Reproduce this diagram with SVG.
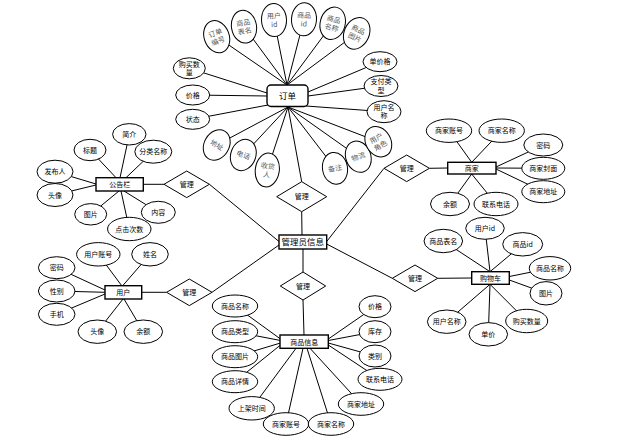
<svg xmlns="http://www.w3.org/2000/svg" width="617" height="441" viewBox="0 0 617 441">
<style>
.e{fill:#fff;stroke:#000;stroke-width:1}
.r{fill:#fff;stroke:#000;stroke-width:1.4}
.d{fill:#fff;stroke:#000;stroke-width:1}
.c line{stroke:#000;stroke-width:1}
text{font-family:"Noto Sans CJK SC","Liberation Sans",sans-serif;font-size:7px;fill:#000;text-anchor:middle}
.g{fill:#555}
.en{font-size:8.5px}
</style>
<rect width="617" height="441" fill="#fff"/>
<g id="connectors" class="c">
<line x1="216.7" y1="36.7" x2="287" y2="85"/>
<line x1="244" y1="26.7" x2="287" y2="85"/>
<line x1="274" y1="20" x2="287" y2="85"/>
<line x1="304" y1="19.3" x2="287" y2="85"/>
<line x1="332.7" y1="23.3" x2="287" y2="85"/>
<line x1="356.7" y1="33.3" x2="287" y2="85"/>
<line x1="189.3" y1="68.3" x2="267" y2="93"/>
<line x1="192.7" y1="95" x2="267" y2="96"/>
<line x1="192.7" y1="119.3" x2="268" y2="105"/>
<line x1="380" y1="61.7" x2="308" y2="92"/>
<line x1="381" y1="86" x2="308" y2="96"/>
<line x1="384" y1="111.7" x2="306" y2="106"/>
<line x1="216.7" y1="145" x2="288" y2="107"/>
<line x1="243.3" y1="155" x2="288" y2="107"/>
<line x1="267.3" y1="170" x2="288" y2="107"/>
<line x1="335" y1="168.3" x2="288" y2="107"/>
<line x1="358.3" y1="156.7" x2="288" y2="107"/>
<line x1="378.3" y1="141.7" x2="288" y2="107"/>
<line x1="288" y1="107" x2="301.7" y2="181.7"/>
<line x1="301.7" y1="211.7" x2="302" y2="235"/>
<line x1="209.4" y1="184.3" x2="279" y2="241.5"/>
<line x1="384" y1="168.3" x2="326.7" y2="241.5"/>
<line x1="212" y1="292.3" x2="279" y2="245"/>
<line x1="392.3" y1="278.3" x2="326.7" y2="244"/>
<line x1="303" y1="249" x2="303" y2="272"/>
<line x1="303" y1="300" x2="304" y2="335"/>
<line x1="164" y1="184.3" x2="143.3" y2="184.3"/>
<line x1="429.4" y1="168.3" x2="447.7" y2="168"/>
<line x1="166.6" y1="292.3" x2="141.7" y2="292.3"/>
<line x1="437.7" y1="278.3" x2="471.7" y2="278"/>
<!-- 公告栏 -->
<line x1="129.3" y1="134.3" x2="120" y2="177.7"/>
<line x1="90" y1="150" x2="116" y2="177.7"/>
<line x1="153.3" y1="151.7" x2="126" y2="177.7"/>
<line x1="55" y1="171.7" x2="96" y2="184"/>
<line x1="55" y1="195" x2="96" y2="185"/>
<line x1="90.7" y1="214.3" x2="119" y2="191"/>
<line x1="129.3" y1="229" x2="121" y2="191"/>
<line x1="158.3" y1="212.3" x2="124" y2="191"/>
<!-- 商家 -->
<line x1="449" y1="130.7" x2="471.7" y2="162.3"/>
<line x1="501.7" y1="130.7" x2="471.7" y2="162.3"/>
<line x1="543.3" y1="145" x2="496" y2="167"/>
<line x1="543.3" y1="168.3" x2="496" y2="168"/>
<line x1="543.3" y1="191.7" x2="496" y2="169"/>
<line x1="450" y1="204" x2="471.7" y2="174"/>
<line x1="496" y1="204" x2="471.7" y2="174"/>
<!-- 用户 -->
<line x1="98.3" y1="254.3" x2="121.7" y2="285.7"/>
<line x1="150" y1="254.3" x2="122.7" y2="285.7"/>
<line x1="56.7" y1="267.7" x2="105" y2="290"/>
<line x1="56.7" y1="291" x2="105" y2="292.3"/>
<line x1="56.7" y1="314.3" x2="105" y2="294"/>
<line x1="97.3" y1="331.7" x2="123" y2="299"/>
<line x1="143.3" y1="331.7" x2="124" y2="299"/>
<!-- 购物车 -->
<line x1="443.3" y1="241" x2="490" y2="271.7"/>
<line x1="485" y1="228.3" x2="490" y2="271.7"/>
<line x1="522.7" y1="244.3" x2="490" y2="271.7"/>
<line x1="550" y1="268.3" x2="509.3" y2="276.5"/>
<line x1="546" y1="293.3" x2="509.3" y2="280"/>
<line x1="446.7" y1="321.7" x2="490" y2="284.3"/>
<line x1="488.3" y1="334.3" x2="490" y2="284.3"/>
<line x1="526.7" y1="321" x2="490" y2="284.3"/>
<!-- 商品信息 -->
<line x1="235" y1="306" x2="280.5" y2="339"/>
<line x1="235" y1="331.7" x2="280.5" y2="340.5"/>
<line x1="235" y1="356.7" x2="280.5" y2="343"/>
<line x1="235" y1="381.7" x2="280.5" y2="345"/>
<line x1="251.7" y1="408.3" x2="296" y2="348.3"/>
<line x1="286" y1="424" x2="303" y2="348.3"/>
<line x1="331" y1="424" x2="307" y2="348.3"/>
<line x1="361" y1="404" x2="310" y2="348.3"/>
<line x1="375" y1="306.7" x2="328.3" y2="339"/>
<line x1="375" y1="331.7" x2="328.3" y2="340.5"/>
<line x1="375" y1="356" x2="328.3" y2="343"/>
<line x1="380" y1="379.3" x2="328.3" y2="345"/>
</g>

<!-- 订单 -->
<g id="dingdan"><rect class="r" x="267" y="85" width="41" height="21.5" rx="4"/><text class="en" x="287.5" y="98.8">订单</text></g>
<g id="dd-bianhao" transform="translate(216.7,36.7) rotate(-20)"><ellipse class="e" rx="12.5" ry="16.5"/><text class="g" y="-1.5">订单</text><text class="g" y="7">编号</text></g>
<g id="dd-biaoming" transform="translate(244,26.7) rotate(-10)"><ellipse class="e" rx="12.5" ry="16.5"/><text class="g" y="-1.5">商品</text><text class="g" y="7">表名</text></g>
<g id="dd-yonghuid" transform="translate(274,20) rotate(-3)"><ellipse class="e" rx="12.5" ry="16.5"/><text class="g" y="-1.5">用户</text><text class="g" y="7">id</text></g>
<g id="dd-shangpinid" transform="translate(304,19.3) rotate(3)"><ellipse class="e" rx="12.5" ry="16.5"/><text class="g" y="-1.5">商品</text><text class="g" y="7">id</text></g>
<g id="dd-mingcheng" transform="translate(332.7,23.3) rotate(15)"><ellipse class="e" rx="12.5" ry="16.5"/><text class="g" y="-1.5">商品</text><text class="g" y="7">名称</text></g>
<g id="dd-tupian" transform="translate(356.7,33.3) rotate(25)"><ellipse class="e" rx="12.5" ry="16.5"/><text class="g" y="-1.5">商品</text><text class="g" y="7">图片</text></g>
<g id="dd-shuliang"><ellipse class="e" cx="189.3" cy="68.3" rx="16" ry="10.5"/><text x="189.3" y="66.5">购买数</text><text x="189.3" y="75">量</text></g>
<g id="dd-jiage"><ellipse class="e" cx="192.7" cy="95" rx="17" ry="10"/><text x="192.7" y="97.5">价格</text></g>
<g id="dd-zhuangtai"><ellipse class="e" cx="192.7" cy="119.3" rx="17" ry="10"/><text x="192.7" y="121.8">状态</text></g>
<g id="dd-danjiage"><ellipse class="e" cx="380" cy="61.7" rx="17" ry="10"/><text x="380" y="64.2">单价格</text></g>
<g id="dd-zhifu"><ellipse class="e" cx="381" cy="86" rx="17" ry="10.5"/><text x="381" y="84">支付类</text><text x="381" y="92.5">型</text></g>
<g id="dd-yhmc"><ellipse class="e" cx="384" cy="111.7" rx="17" ry="11"/><text x="384" y="109.7">用户名</text><text x="384" y="118.2">称</text></g>
<g id="dd-dizhi" transform="translate(216.7,145) rotate(30)"><ellipse class="e" rx="12.5" ry="16"/><text class="g" y="2.5">地址</text></g>
<g id="dd-dianhua" transform="translate(243.3,155) rotate(20)"><ellipse class="e" rx="12.5" ry="16"/><text class="g" y="2.5">电话</text></g>
<g id="dd-shouhuoren" transform="translate(267.3,170) rotate(8)"><ellipse class="e" rx="12" ry="17"/><text class="g" y="-1.5">收货</text><text class="g" y="7">人</text></g>
<g id="dd-beizhu" transform="translate(335,168.3) rotate(-10)"><ellipse class="e" rx="12.5" ry="16"/><text class="g" y="2.5">备注</text></g>
<g id="dd-wuliu" transform="translate(358.3,156.7) rotate(-20)"><ellipse class="e" rx="12.5" ry="16"/><text class="g" y="2.5">物流</text></g>
<g id="dd-juese" transform="translate(378.3,141.7) rotate(-30)"><ellipse class="e" rx="12.5" ry="16"/><text class="g" y="-1.5">用户</text><text class="g" y="7">角色</text></g>

<!-- 管理员信息 & diamonds -->
<g id="guanliyuan"><rect class="r" x="279" y="235" width="47.7" height="14" stroke-width="1.8"/><text class="en" x="302.8" y="245">管理员信息</text></g>
<g id="gl-top"><polygon class="d" points="301.7,181.7 326.7,196.7 301.7,211.7 276.7,196.7"/><text x="301.7" y="199" font-size="6">管理</text></g>
<g id="gl-gonggao"><polygon class="d" points="186.7,171 209.4,184.3 186.7,197.6 164,184.3"/><text x="186.7" y="186.8">管理</text></g>
<g id="gl-shangjia"><polygon class="d" points="406.7,155 429.4,168.3 406.7,181.6 384,168.3"/><text x="406.7" y="170.8">管理</text></g>
<g id="gl-yonghu"><polygon class="d" points="189.3,279 212,292.3 189.3,305.6 166.6,292.3"/><text x="189.3" y="294.8">管理</text></g>
<g id="gl-gouwuche"><polygon class="d" points="415,265 437.7,278.3 415,291.6 392.3,278.3"/><text x="415" y="280.8">管理</text></g>
<g id="gl-shangpin"><polygon class="d" points="303,272 325.7,286 303,300 280.3,286"/><text x="303" y="288.5">管理</text></g>

<!-- 公告栏 -->
<g id="gonggaolan"><rect class="r" x="96" y="177.7" width="47.3" height="13.3"/><text x="119.7" y="187.3" font-size="8">公告栏</text></g>
<g id="gg-jianjie"><ellipse class="e" cx="129.3" cy="134.3" rx="16.7" ry="10.7"/><text x="129.3" y="136.8">简介</text></g>
<g id="gg-biaoti"><ellipse class="e" cx="90" cy="150" rx="16" ry="10.7"/><text x="90" y="152.5">标题</text></g>
<g id="gg-fenlei"><ellipse class="e" cx="153.3" cy="151.7" rx="18.5" ry="11.5"/><text x="153.3" y="154.2">分类名称</text></g>
<g id="gg-faburen"><ellipse class="e" cx="55" cy="171.7" rx="18" ry="11.5"/><text x="55" y="174.2">发布人</text></g>
<g id="gg-touxiang"><ellipse class="e" cx="55" cy="195" rx="18" ry="11.5"/><text x="55" y="197.5">头像</text></g>
<g id="gg-tupian"><ellipse class="e" cx="90.7" cy="214.3" rx="16" ry="10.7"/><text x="90.7" y="216.8">图片</text></g>
<g id="gg-dianji"><ellipse class="e" cx="129.3" cy="229" rx="21.7" ry="11.7"/><text x="129.3" y="231.5">点击次数</text></g>
<g id="gg-neirong"><ellipse class="e" cx="158.3" cy="212.3" rx="17" ry="11"/><text x="158.3" y="214.8">内容</text></g>

<!-- 商家 -->
<g id="shangjia"><rect class="r" x="447.7" y="162.3" width="48.3" height="11.7"/><text x="471.8" y="171" font-size="8">商家</text></g>
<g id="sj-zhanghao"><ellipse class="e" cx="449" cy="130.7" rx="22.7" ry="11.7"/><text x="449" y="133.2">商家账号</text></g>
<g id="sj-mingcheng"><ellipse class="e" cx="501.7" cy="130.7" rx="22.7" ry="11.7"/><text x="501.7" y="133.2">商家名称</text></g>
<g id="sj-mima"><ellipse class="e" cx="543.3" cy="145" rx="19.5" ry="11"/><text x="543.3" y="147.5">密码</text></g>
<g id="sj-fengmian"><ellipse class="e" cx="543.3" cy="168.3" rx="21.5" ry="11"/><text x="543.3" y="170.8">商家封面</text></g>
<g id="sj-dizhi"><ellipse class="e" cx="543.3" cy="191.7" rx="21.5" ry="11"/><text x="543.3" y="194.2">商家地址</text></g>
<g id="sj-yue"><ellipse class="e" cx="450" cy="204" rx="19.5" ry="11.7"/><text x="450" y="206.5">余额</text></g>
<g id="sj-dianhua"><ellipse class="e" cx="496" cy="204" rx="22" ry="11.7"/><text x="496" y="206.5">联系电话</text></g>

<!-- 用户 -->
<g id="yonghu"><rect class="r" x="105" y="285.7" width="36.7" height="13.3"/><text x="123.3" y="295.2" font-size="8">用户</text></g>
<g id="yh-zhanghao"><ellipse class="e" cx="98.3" cy="254.3" rx="21.7" ry="11.7"/><text x="98.3" y="256.8">用户账号</text></g>
<g id="yh-xingming"><ellipse class="e" cx="150" cy="254.3" rx="18.3" ry="11.7"/><text x="150" y="256.8">姓名</text></g>
<g id="yh-mima"><ellipse class="e" cx="56.7" cy="267.7" rx="18.3" ry="11"/><text x="56.7" y="270.2">密码</text></g>
<g id="yh-xingbie"><ellipse class="e" cx="56.7" cy="291" rx="18.3" ry="11"/><text x="56.7" y="293.5">性别</text></g>
<g id="yh-shouji"><ellipse class="e" cx="56.7" cy="314.3" rx="18.3" ry="11"/><text x="56.7" y="316.8">手机</text></g>
<g id="yh-touxiang"><ellipse class="e" cx="97.3" cy="331.7" rx="19.3" ry="11.7"/><text x="97.3" y="334.2">头像</text></g>
<g id="yh-yue"><ellipse class="e" cx="143.3" cy="331.7" rx="19.3" ry="11.7"/><text x="143.3" y="334.2">余额</text></g>

<!-- 购物车 -->
<g id="gouwuche"><rect class="r" x="471.7" y="271.7" width="37.6" height="12.6"/><text x="490.5" y="280.8" font-size="8">购物车</text></g>
<g id="gw-biaoming"><ellipse class="e" cx="443.3" cy="241" rx="19.3" ry="11.7"/><text x="443.3" y="243.5">商品表名</text></g>
<g id="gw-yonghuid"><ellipse class="e" cx="485" cy="228.3" rx="19.3" ry="11"/><text x="485" y="230.8">用户id</text></g>
<g id="gw-shangpinid"><ellipse class="e" cx="522.7" cy="244.3" rx="20" ry="11.7"/><text x="522.7" y="246.8">商品id</text></g>
<g id="gw-mingcheng"><ellipse class="e" cx="550" cy="268.3" rx="20.7" ry="11.7"/><text x="550" y="270.8">商品名称</text></g>
<g id="gw-tupian"><ellipse class="e" cx="546" cy="293.3" rx="16" ry="11.7"/><text x="546" y="295.8">图片</text></g>
<g id="gw-yhmc"><ellipse class="e" cx="446.7" cy="321.7" rx="19.3" ry="11.7"/><text x="446.7" y="324.2">用户名称</text></g>
<g id="gw-danjia"><ellipse class="e" cx="488.3" cy="334.3" rx="19.3" ry="11.7"/><text x="488.3" y="336.8">单价</text></g>
<g id="gw-shuliang"><ellipse class="e" cx="526.7" cy="321" rx="21" ry="11.7"/><text x="526.7" y="323.5">购买数量</text></g>

<!-- 商品信息 -->
<g id="shangpinxinxi"><rect class="r" x="280" y="335" width="48.3" height="13.3" stroke-width="1.8"/><text x="304.2" y="344.5" font-size="8">商品信息</text></g>
<g id="sp-mingcheng"><ellipse class="e" cx="235" cy="306" rx="22.7" ry="11"/><text x="235" y="308.5">商品名称</text></g>
<g id="sp-leixing"><ellipse class="e" cx="235" cy="331.7" rx="22.7" ry="11"/><text x="235" y="334.2">商品类型</text></g>
<g id="sp-tupian"><ellipse class="e" cx="235" cy="356.7" rx="22.7" ry="11"/><text x="235" y="359.2">商品图片</text></g>
<g id="sp-xiangqing"><ellipse class="e" cx="235" cy="381.7" rx="22.7" ry="11"/><text x="235" y="384.2">商品详情</text></g>
<g id="sp-shangjia"><ellipse class="e" cx="251.7" cy="408.3" rx="22.7" ry="11.7"/><text x="251.7" y="410.8">上架时间</text></g>
<g id="sp-sjzh"><ellipse class="e" cx="286" cy="424" rx="22.7" ry="11.3"/><text x="286" y="426.5">商家账号</text></g>
<g id="sp-sjmc"><ellipse class="e" cx="331" cy="424" rx="22.7" ry="11.3"/><text x="331" y="426.5">商家名称</text></g>
<g id="sp-sjdz"><ellipse class="e" cx="361" cy="404" rx="22.7" ry="11.3"/><text x="361" y="406.5">商家地址</text></g>
<g id="sp-jiage"><ellipse class="e" cx="375" cy="306.7" rx="16" ry="11"/><text x="375" y="309.2">价格</text></g>
<g id="sp-kucun"><ellipse class="e" cx="375" cy="331.7" rx="16" ry="11"/><text x="375" y="334.2">库存</text></g>
<g id="sp-leibie"><ellipse class="e" cx="375" cy="356" rx="16" ry="11"/><text x="375" y="358.5">类别</text></g>
<g id="sp-dianhua"><ellipse class="e" cx="380" cy="379.3" rx="22" ry="11"/><text x="380" y="381.8">联系电话</text></g>
</svg>
